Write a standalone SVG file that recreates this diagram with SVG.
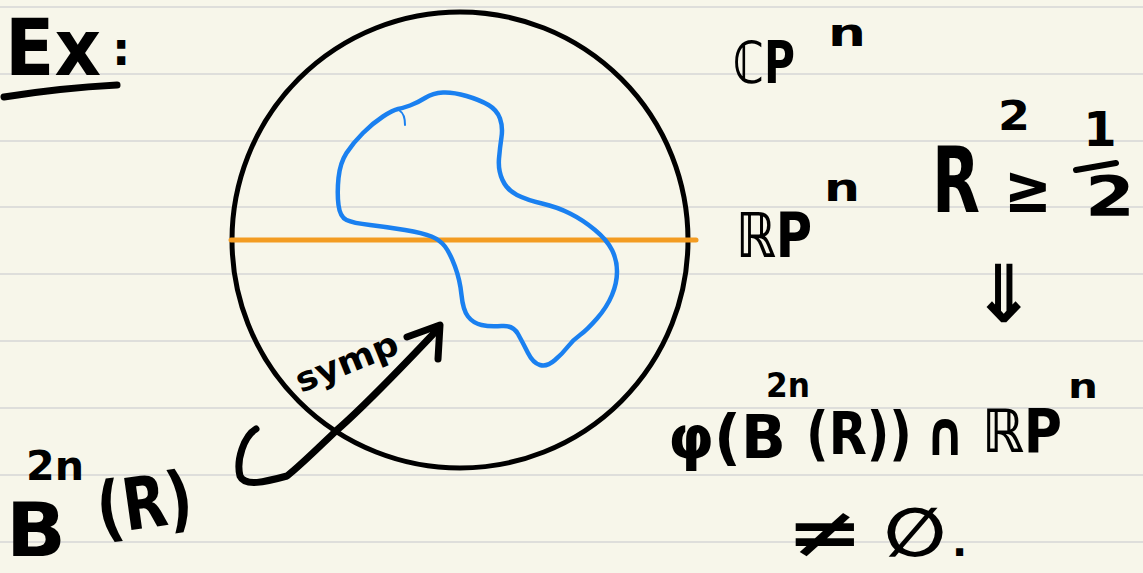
<svg xmlns="http://www.w3.org/2000/svg" width="1143" height="573" viewBox="0 0 1143 573">
<style>
.hw{font-family:"DejaVu Sans","Liberation Sans",sans-serif;font-weight:bold;fill:#000}
.ink{fill:none;stroke:#000;stroke-linecap:round;stroke-linejoin:round}
.rule{stroke:#d6d6d6;stroke-width:1.6}
</style>
<rect width="1143" height="573" fill="#f7f6ea"/>
<g id="ruling">
<line class="rule" x1="0" y1="7" x2="1143" y2="7"/>
<line class="rule" x1="0" y1="74" x2="1143" y2="74"/>
<line class="rule" x1="0" y1="141" x2="1143" y2="141"/>
<line class="rule" x1="0" y1="207" x2="1143" y2="207"/>
<line class="rule" x1="0" y1="274" x2="1143" y2="274"/>
<line class="rule" x1="0" y1="341" x2="1143" y2="341"/>
<line class="rule" x1="0" y1="408" x2="1143" y2="408"/>
<line class="rule" x1="0" y1="475" x2="1143" y2="475"/>
<line class="rule" x1="0" y1="542" x2="1143" y2="542"/>
</g>
<g id="ball">
<circle cx="460" cy="240" r="228" class="ink" stroke-width="5"/>
</g>
<g id="real-line">
<line x1="231" y1="240" x2="696" y2="240" stroke="#f39c22" stroke-width="5" stroke-linecap="round"/>
</g>
<g id="image-blob">
<path fill="none" stroke="#1a80f0" stroke-width="4.5" stroke-linecap="round" stroke-linejoin="round" d="M383,116.5 Q393,110 398,109 Q403,108 410,105.5 Q417,103 425,98 Q433,93 443,92.5 Q453,92 466.5,96 Q480,100 488.5,105 Q497,110 500,118.5 Q503,127 501.5,137 Q500,147 499,158.5 Q498,170 502.5,180 Q507,190 517,195 Q527,200 542,203.5 Q557,207 570,213.5 Q583,220 595,230 Q607,240 612,250 Q617,260 617,271.5 Q617,283 612,295 Q607,307 597,318.5 Q587,330 580,335 Q573,340 568,346.5 Q563,353 555,360 Q547,367 540,365 Q533,363 528,353 Q523,343 518,334 Q513,325 501.5,326 Q490,327 481.5,325 Q473,323 468,316.5 Q463,310 461.5,295 Q460,280 455,266.5 Q450,253 445,246.5 Q440,240 431.5,236.5 Q423,233 405,230 Q387,227 370,225 Q353,223 346.5,220 Q340,217 338.5,205 Q337,193 338.5,178 Q340,163 346.5,153 Q353,143 363,133 Q373,123 383,116.5 Z"/>
<path fill="none" stroke="#1a80f0" stroke-width="2" stroke-linecap="round" d="M400,111 Q405,114 405,125"/>
</g>
<g id="connectors">
<path class="ink" stroke-width="7" d="M256,429 C244,436 236,460 240,476 C245,487 265,482 287,476 C300,466 318,448 337,430 C360,410 385,385 437,330"/>
<path class="ink" stroke-width="7" d="M407,337 L440,325 L438,359"/>
</g>
<g id="symp-label">
<text class="hw" x="301" y="393" font-size="34" textLength="108" lengthAdjust="spacingAndGlyphs" transform="rotate(-22 301 393)">symp</text>
</g>
<g id="ex-heading">
<text class="hw" x="5" y="75" font-size="78" textLength="96" lengthAdjust="spacingAndGlyphs">Ex</text>
<text class="hw" x="112" y="65" font-size="46">:</text>
<path class="ink" stroke-width="7" d="M4,97 Q60,88 117,85"/>
</g>
<g id="cpn">
<text class="hw" font-size="58"><tspan x="733" y="83" textLength="62" lengthAdjust="spacingAndGlyphs">ℂP</tspan><tspan x="828" y="46" font-size="38" textLength="38" lengthAdjust="spacingAndGlyphs">n</tspan></text>
</g>
<g id="rpn">
<text class="hw" font-size="62"><tspan x="736" y="257" textLength="76" lengthAdjust="spacingAndGlyphs">ℝP</tspan><tspan x="824" y="201" font-size="38" textLength="36" lengthAdjust="spacingAndGlyphs">n</tspan></text>
</g>
<g id="condition">
<text class="hw" font-size="90"><tspan x="932" y="212" textLength="48" lengthAdjust="spacingAndGlyphs">R</tspan><tspan x="998" y="130" font-size="40" textLength="32" lengthAdjust="spacingAndGlyphs">2</tspan><tspan x="1004" y="212" font-size="68" textLength="48" lengthAdjust="spacingAndGlyphs">≥</tspan></text>
<text class="hw" x="1100" y="146" font-size="48" text-anchor="middle">1</text>
<path class="ink" stroke-width="6" d="M1076,170 L1116,163"/>
<text class="hw" x="1085" y="215" font-size="56" textLength="50" lengthAdjust="spacingAndGlyphs">2</text>
</g>
<g id="implies">
<text class="hw" x="972" y="322" font-size="80" textLength="64" lengthAdjust="spacingAndGlyphs">⇓</text>
</g>
<g id="conclusion">
<text class="hw" font-size="60"><tspan x="668" y="458" textLength="118" lengthAdjust="spacingAndGlyphs">φ(B</tspan><tspan x="766" y="397" font-size="34" textLength="44" lengthAdjust="spacingAndGlyphs">2n</tspan><tspan x="806" y="454" font-size="58" textLength="106" lengthAdjust="spacingAndGlyphs">(R))</tspan><tspan x="925" y="455" font-size="62" textLength="40" lengthAdjust="spacingAndGlyphs">∩</tspan><tspan x="982" y="452" textLength="80" lengthAdjust="spacingAndGlyphs">ℝP</tspan><tspan x="1068" y="398" font-size="34" textLength="30" lengthAdjust="spacingAndGlyphs">n</tspan></text>
<text class="hw" font-size="68"><tspan x="786" y="556" textLength="78" lengthAdjust="spacingAndGlyphs">≠</tspan><tspan x="884" y="556" textLength="62" lengthAdjust="spacingAndGlyphs">∅</tspan><tspan x="952" y="556" font-size="40">.</tspan></text>
</g>
<g id="ball-label">
<text class="hw" font-size="74"><tspan x="6" y="556" textLength="60" lengthAdjust="spacingAndGlyphs">B</tspan><tspan x="26" y="480" font-size="40" textLength="58" lengthAdjust="spacingAndGlyphs">2n</tspan></text>
<text class="hw" x="96" y="528" font-size="72" textLength="96" lengthAdjust="spacingAndGlyphs" transform="rotate(-8 144 500)">(R)</text>
</g>
</svg>
